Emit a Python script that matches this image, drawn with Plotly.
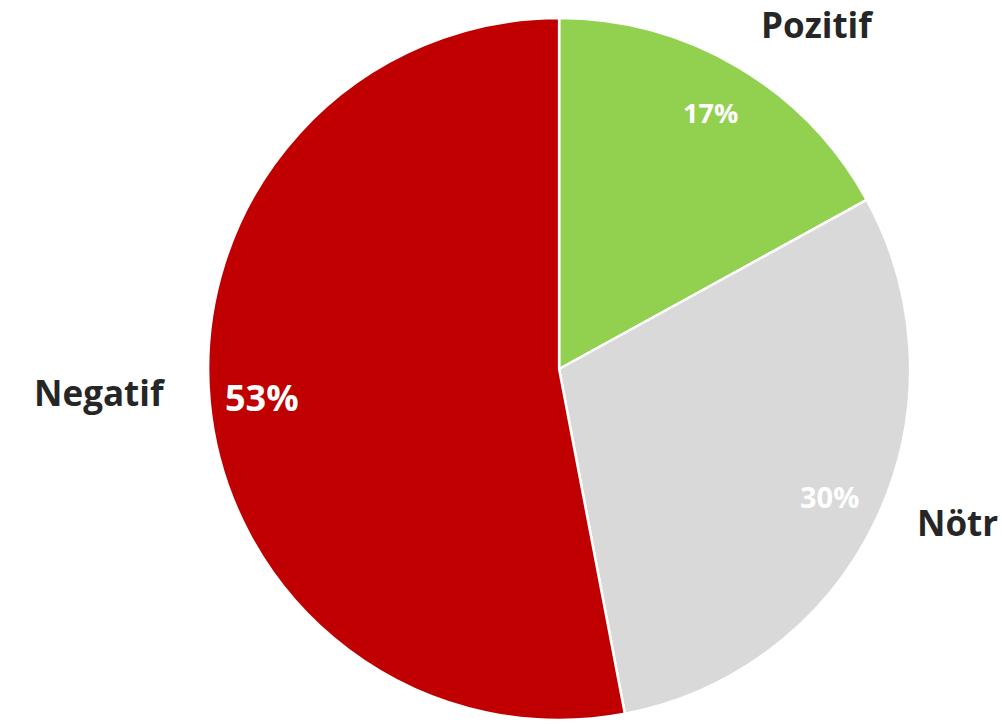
import math
import plotly.graph_objects as go

# ---- data ----
categories = ["Pozitif", "Nötr", "Negatif"]
values = [17, 30, 53]

# ---- styles ----
slice_colors = ["#92D050", "#D9D9D9", "#C00000"]
pct_font_sizes = [27, 29, 36]
label_font_size = 35
label_lift = 14
FONT = "Open Sans"

W, H = 1002, 724
dom_x = [0.2077, 0.9083]
dom_y = [0.0055, 0.9751]

fig = go.Figure(go.Pie(
    labels=categories,
    values=values,
    sort=False,
    direction="clockwise",
    rotation=0,
    marker=dict(colors=slice_colors, line=dict(color="white", width=2.5)),
    textinfo="none",
    hoverinfo="label+percent",
    domain=dict(x=dom_x, y=dom_y),
    showlegend=False,
))

# geometry derived from the pie domain
cx = (dom_x[0] + dom_x[1]) / 2 * W
cy = (1 - (dom_y[0] + dom_y[1]) / 2) * H
R = min((dom_x[1] - dom_x[0]) * W, (dom_y[1] - dom_y[0]) * H) / 2
box_half = label_font_size * 1.4 / 2

total = sum(values)
annotations = []
cum = 0
for i, (lab, v) in enumerate(zip(categories, values)):
    mid = (cum + v / 2) / total * 2 * math.pi
    cum += v
    s, c = math.sin(mid), math.cos(mid)
    # percentage label inside, near outer edge
    r_in = 0.85 * R
    px, py = cx + r_in * s, cy - r_in * c
    annotations.append(dict(
        x=px / W, y=1 - py / H, xref="paper", yref="paper",
        text=f"{round(v / total * 100)}%", showarrow=False,
        xanchor="center", yanchor="middle",
        font=dict(family=FONT, size=pct_font_sizes[i], color="white", weight="bold"),
    ))
    # category label outside (kept inside the canvas)
    r_out = 1.12 * R
    lx, ly = cx + r_out * s, cy - r_out * c - label_lift
    ly = max(ly, box_half)
    annotations.append(dict(
        x=lx / W, y=1 - ly / H, xref="paper", yref="paper",
        text=lab, showarrow=False,
        xanchor="left" if s > 0 else "right", yanchor="middle",
        font=dict(family=FONT, size=label_font_size, color="#262626", weight="bold"),
    ))

fig.update_layout(
    width=W, height=H,
    margin=dict(l=0, r=0, t=0, b=0),
    paper_bgcolor="white",
    plot_bgcolor="white",
    annotations=annotations,
)

fig.write_html(
    "out.html",
    config={"displayModeBar": False},
    post_script="document.body.style.margin='0';document.body.style.overflow='hidden';",
)
